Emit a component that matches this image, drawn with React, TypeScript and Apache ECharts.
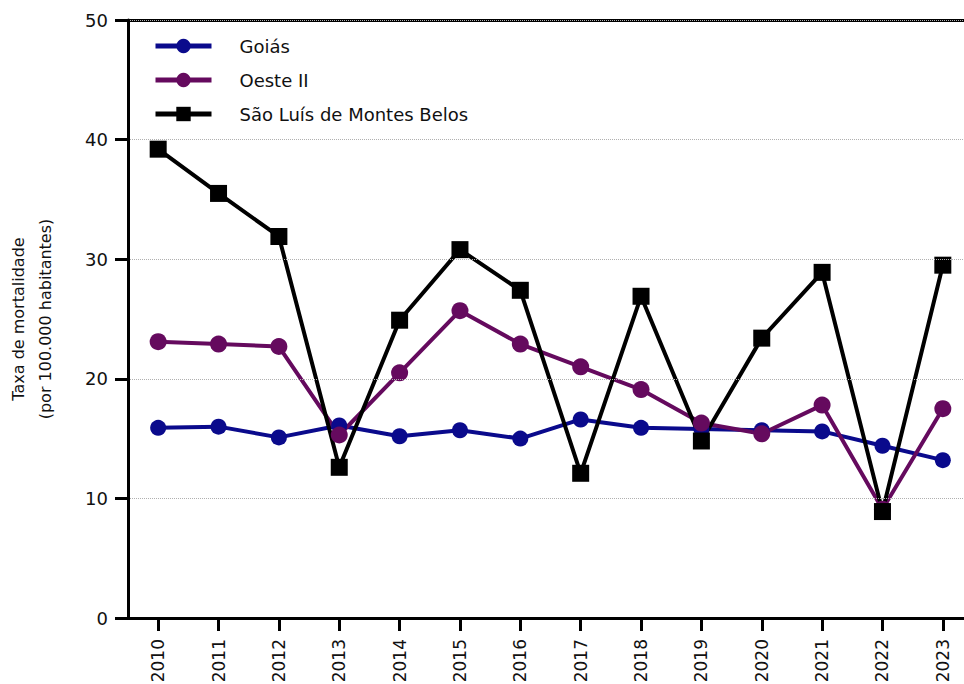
import React, { useEffect, useRef } from "react";
import * as echarts from "echarts";

const years = ["2010", "2011", "2012", "2013", "2014", "2015", "2016", "2017", "2018", "2019", "2020", "2021", "2022", "2023"];
const goias = [15.9, 16.0, 15.1, 16.1, 15.2, 15.7, 15.0, 16.6, 15.9, 15.8, 15.7, 15.6, 14.4, 13.2];
const oesteII = [23.1, 22.9, 22.7, 15.3, 20.5, 25.7, 22.9, 21.0, 19.1, 16.3, 15.4, 17.8, 9.1, 17.5];
const saoLuis = [39.2, 35.5, 31.9, 12.6, 24.9, 30.8, 27.4, 12.1, 26.9, 14.8, 23.4, 28.9, 8.9, 29.5];
const yTicks = [0, 10, 20, 30, 40, 50];

const FONT = "DejaVu Sans";

export default function App() {
  const ref = useRef<HTMLDivElement>(null);
  useEffect(() => {
    if (!ref.current) return;
    const chart = echarts.init(ref.current, undefined, { renderer: "svg" });
    const lineSeries = (name: string, data: number[], color: string, symbol: string, size: number) => ({
      name,
      type: "line",
      data,
      symbol,
      symbolSize: size,
      itemStyle: { color },
      lineStyle: { color, width: 4 },
      z: 3,
    });
    chart.setOption({
      animation: false,
      backgroundColor: "#ffffff",
      textStyle: { fontFamily: FONT },
      grid: { left: 128, top: 20, width: 845, height: 598, containLabel: false, outerBoundsMode: "none" },
      legend: {
        orient: "vertical",
        left: 148,
        top: 32,
        itemWidth: 56,
        itemHeight: 18,
        itemGap: 16,
        lineStyle: { width: 5 },
        textStyle: { fontFamily: FONT, fontSize: 18, color: "#111", padding: [0, 0, 0, 23] },
        data: ["Goiás", "Oeste II", "São Luís de Montes Belos"],
      },
      xAxis: [
        {
          type: "category",
          data: years,
          boundaryGap: true,
          axisLine: { show: true, lineStyle: { color: "#000", width: 3 } },
          axisTick: { show: true, inside: false, alignWithLabel: true, interval: 0, length: 13, lineStyle: { color: "#000000", width: 3, opacity: 1 } },
          axisLabel: { rotate: 90, interval: 0, fontSize: 17, color: "#111", fontFamily: FONT, margin: 21 },
          z: 5,
        },
        {
          type: "category",
          data: years,
          position: "top",
          axisLine: { lineStyle: { color: "#000", width: 3 } },
          axisTick: { show: false },
          axisLabel: { show: false },
        },
      ],
      yAxis: {
        type: "value",
        min: 0,
        max: 50,
        interval: 10,
        z: 5,
        name: "Taxa de mortalidade\n(por 100.000 habitantes)",
        nameLocation: "middle",
        nameGap: 69,
        nameTextStyle: { fontSize: 16, color: "#111", fontFamily: FONT, lineHeight: 27 },
        axisLine: { show: true, lineStyle: { color: "#000", width: 3 } },
        axisTick: { show: true, inside: false, length: 13, lineStyle: { color: "#000000", width: 3, opacity: 1 } },
        axisLabel: {
          fontSize: 18,
          color: "#111",
          fontFamily: FONT,
          margin: 20,
          formatter: (v: number) => (yTicks.includes(v) ? String(v) : ""),
        },
        splitLine: { show: true, lineStyle: { color: "#b0b0b0", type: "dotted", width: 1 } },
      },
      series: [
        lineSeries("Goiás", goias, "#0a0a8c", "circle", 16),
        lineSeries("Oeste II", oesteII, "#650a5e", "circle", 17),
        lineSeries("São Luís de Montes Belos", saoLuis, "#000000", "rect", 17),
      ],
    });
    return () => chart.dispose();
  }, []);
  return <div ref={ref} style={{ position: "fixed", left: 0, top: 0, width: 964, height: 684 }} />;
}
